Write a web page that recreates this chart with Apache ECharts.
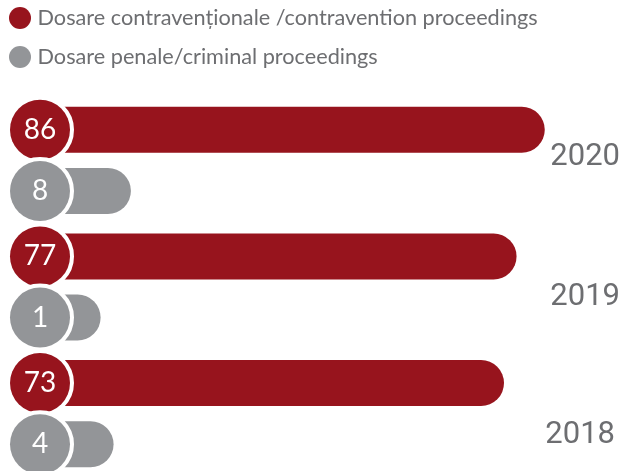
<!DOCTYPE html>
<html>
<head>
<meta charset="utf-8">
<script src="https://cdn.jsdelivr.net/npm/echarts@6/dist/echarts.min.js"></script>
<style>
html,body{margin:0;padding:0;background:#fff;}
#c{width:626px;height:471px;}
</style>
</head>
<body>
<div id="c"></div>
<script>
const years = ['2020', '2019', '2018'];
const contraventional = [86, 77, 73];
const criminal = [8, 1, 4];
const seriesNames = ['Dosare contravenționale /contravention proceedings', 'Dosare penale/criminal proceedings'];

const RED = '#97141d';
const GREY = '#939598';
const TEXT = '#6d6e71';

function circleLabel(color) {
  return {
    show: true,
    position: [0, '50%'],
    align: 'center',
    verticalAlign: 'middle',
    formatter: '{c|{c}}',
    rich: {
      c: {
        width: 60, height: 60, lineHeight: 60,
        borderRadius: 30,
        backgroundColor: color,
        borderColor: '#fff', borderWidth: 4,
        align: 'center',
        color: '#fff', fontSize: 28,
        fontFamily: 'Lato'
      }
    }
  };
}

const chart = echarts.init(document.getElementById('c'), null, {renderer: 'canvas'});
chart.setOption({
  animation: false,
  legend: {
    orient: 'vertical', left: 9, top: 7, padding: 0,
    itemWidth: 25, itemHeight: 22, itemGap: 17,
    icon: 'circle',
    textStyle: {color: TEXT, fontSize: 21.7, fontFamily: 'Lato'},
    data: seriesNames
  },
  grid: {left: 40, right: 6, top: 97, height: 380, containLabel: false, outerBoundsMode: 'none'},
  xAxis: [
    {type: 'value', min: -75, max: 110, startValue: -75, show: false},
    {type: 'value', min: -13, max: 121, startValue: -13, show: false}
  ],
  yAxis: {
    type: 'category', data: years, inverse: true, position: 'right',
    axisLine: {show: false}, axisTick: {show: false}, splitLine: {show: false},
    axisLabel: {
      inside: true, margin: 0,
      formatter: v => '{y' + v + '|' + v + '}',
      rich: {
        y2020: {fontSize: 31, fontFamily: 'Roboto', color: TEXT, padding: [0, 0, 7, 0]},
        y2019: {fontSize: 31, fontFamily: 'Roboto', color: TEXT, padding: [21, 0, 0, 0]},
        y2018: {fontSize: 31, fontFamily: 'Roboto', color: TEXT, padding: [43, 5, 0, 0]}
      }
    }
  },
  series: [
    {
      name: seriesNames[0], type: 'bar', xAxisIndex: 0,
      data: contraventional, barWidth: 46, barGap: '33%',
      itemStyle: {color: RED, borderRadius: [0, 23, 23, 0]},
      label: circleLabel(RED), z: 2
    },
    {
      name: seriesNames[1], type: 'bar', xAxisIndex: 1,
      data: criminal, barWidth: 46, barGap: '33%',
      itemStyle: {color: GREY, borderRadius: [0, 23, 23, 0]},
      label: circleLabel(GREY), z: 2
    }
  ]
});
</script>
</body>
</html>
